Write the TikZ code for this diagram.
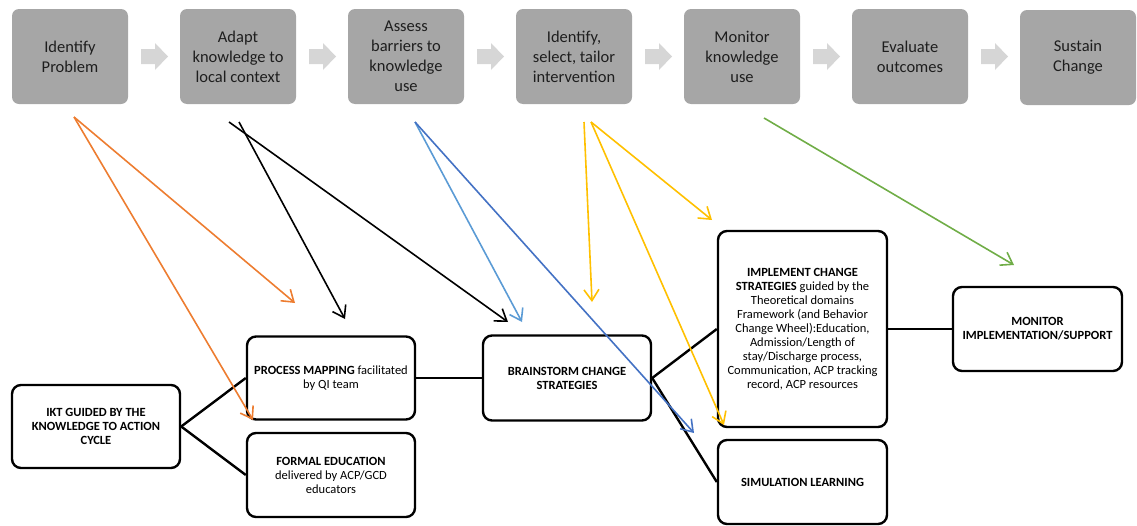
\documentclass[tikz,border=0pt]{standalone}
\usepackage{fontspec}
\setmainfont{Carlito}
\usetikzlibrary{arrows.meta}
\definecolor{topgray}{HTML}{A6A6A6}
\definecolor{chev}{HTML}{D6D6D6}
\definecolor{txt}{HTML}{1E1E1E}
\definecolor{corange}{HTML}{ED7D31}
\definecolor{cltblue}{HTML}{5B9BD5}
\definecolor{cdkblue}{HTML}{4472C4}
\definecolor{cyellow}{HTML}{FFC000}
\definecolor{cgreen}{HTML}{70AD47}
\tikzset{
  topbox/.style={fill=topgray, rounded corners=7pt, minimum width=116pt, minimum height=95pt,
    align=center, text=txt, font=\fontsize{16.5}{20}\selectfont, inner sep=2pt},
  lowbox/.style={draw=black, line width=2.4pt, rounded corners=9pt, fill=white,
    align=center, font=\fontsize{12.5}{14}\selectfont, inner sep=2pt, text=black},
  link/.style={line width=2.4pt, black},
  arr/.style={line width=1.6pt, -{Straight Barb[length=11pt,width=15pt,line width=1.6pt]}},
}
\begin{document}
\begin{tikzpicture}[x=1pt,y=-1pt]
\useasboundingbox (0,0) rectangle (1137,525);
% top cycle boxes
\node[topbox] (t1) at (70,56.5) {Identify\\Problem};
\node[topbox] (t2) at (238,56.5) {Adapt\\knowledge to\\local context};
\node[topbox] (t3) at (406,56.5) {Assess\\barriers to\\knowledge\\use};
\node[topbox] (t4) at (574,56.5) {Identify,\\select, tailor\\intervention};
\node[topbox] (t5) at (742,56.5) {Monitor\\knowledge\\use};
\node[topbox] (t6) at (910,56.5) {Evaluate\\outcomes};
\node[topbox] (t7) at (1078,57.5) {Sustain\\Change};
% chevron block arrows
\foreach \a in {141,309,477,645,813,981}{
  \fill[chev] (\a,49) -- (\a+14,49) -- (\a+14,43) -- (\a+27,56.5) -- (\a+14,70) -- (\a+14,64) -- (\a,64) -- cycle;
}
% lower boxes
\node[lowbox, minimum width=168pt, minimum height=83pt] (ikt) at (96,426.5)
  {\textbf{IKT GUIDED BY THE}\\\textbf{KNOWLEDGE TO ACTION}\\\textbf{CYCLE}};
\node[lowbox, minimum width=168pt, minimum height=83pt] (pm) at (331,378)
  {\textbf{PROCESS MAPPING} facilitated\\by QI team};
\node[lowbox, minimum width=168pt, minimum height=84pt] (fe) at (331,475)
  {\textbf{FORMAL EDUCATION}\\delivered by ACP/GCD\\educators};
\node[lowbox, minimum width=168pt, minimum height=85pt] (bs) at (567,378)
  {\textbf{BRAINSTORM CHANGE}\\\textbf{STRATEGIES}};
\node[lowbox, minimum width=169pt, minimum height=196pt] (imp) at (802.5,329)
  {\textbf{IMPLEMENT CHANGE}\\\textbf{STRATEGIES} guided by the\\Theoretical domains\\Framework (and Behavior\\Change Wheel):Education,\\Admission/Length of\\stay/Discharge process,\\Communication, ACP tracking\\record, ACP resources};
\node[lowbox, minimum width=169pt, minimum height=84pt] (sim) at (802.5,482)
  {\textbf{SIMULATION LEARNING}};
\node[lowbox, minimum width=169pt, minimum height=84pt] (mon) at (1037.5,329)
  {\textbf{MONITOR}\\\textbf{IMPLEMENTATION/SUPPORT}};
% black connectors
\draw[link] (ikt.east) -- (pm.west);
\draw[link] (ikt.east) -- (fe.west);
\draw[link] (pm.east) -- (bs.west);
\draw[link] (bs.east) -- (imp.west);
\draw[link] (bs.east) -- (sim.west);
\draw[link] (imp.east) -- (mon.west);
% coloured arrow coordinates
\coordinate (o0) at (74,117);
\coordinate (o1) at (295,303);
\coordinate (o2) at (253,420);
\coordinate (k0a) at (239,122);
\coordinate (k0b) at (229,122);
\coordinate (k1) at (345,319);
\coordinate (k2) at (508,322);
\coordinate (b0) at (415,122);
\coordinate (b1) at (522,322);
\coordinate (b2) at (694,433);
\coordinate (y0) at (584,122);
\coordinate (y0b) at (591,122);
\coordinate (y1) at (592,302);
\coordinate (y2) at (712,220);
\coordinate (y3) at (724,425);
\coordinate (g0) at (764,118);
\coordinate (g1) at (1014,265);
\draw[arr, corange] (o0) -- (o1);
\draw[arr, corange] (o0) -- (o2);
\draw[arr, black] (k0a) -- (k1);
\draw[arr, black] (k0b) -- (k2);
\draw[arr, cltblue] (b0) -- (b1);
\draw[arr, cdkblue] (b0) -- (b2);
\draw[arr, cyellow] (y0) -- (y1);
\draw[arr, cyellow] (y0b) -- (y2);
\draw[arr, cyellow] (y0b) -- (y3);
\draw[arr, cgreen] (g0) -- (g1);
\end{tikzpicture}
\end{document}
